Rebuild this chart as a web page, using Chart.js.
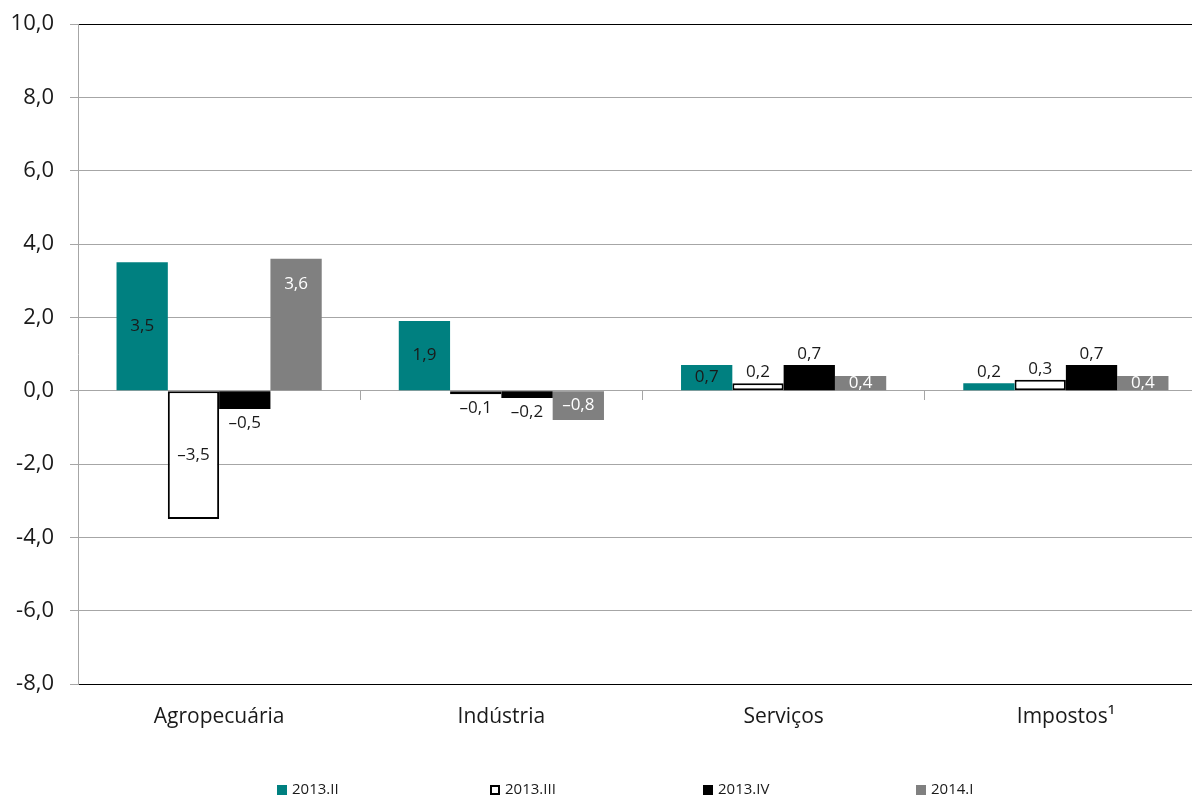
<!DOCTYPE html>
<html>
<head>
<meta charset="utf-8">
<script src="https://cdn.jsdelivr.net/npm/chart.js@4.4.1/dist/chart.umd.min.js"></script>
<style>
  html, body { margin: 0; padding: 0; background: #ffffff; overflow: hidden; }
  #wrap { width: 1207px; height: 799px; }
</style>
</head>
<body>
<div id="wrap"><canvas id="chart" width="1207" height="799"></canvas></div>
<script>
// Sectors on the horizontal axis
const categories = ['Agropecuária', 'Indústria', 'Serviços', 'Impostos¹'];
// Quarters shown in the legend
const periods = ['2013.II', '2013.III', '2013.IV', '2014.I'];
// Quarter-on-quarter change (%) per sector
const q2013II  = [3.5, 1.9, 0.7, 0.2];
const q2013III = [-3.5, -0.1, 0.2, 0.3];
const q2013IV  = [-0.5, -0.2, 0.7, 0.7];
const q2014I   = [3.6, -0.8, 0.4, 0.4];
// Value axis range
const yMin = -8;
const yMax = 10;
const yStep = 2;

const FONT = '"Open Sans", sans-serif';
const TEXT = '#1a1a1a';
const GRID = '#a6a6a6';

const fmtTick = v => v.toFixed(1).replace('.', ',');
const fmtValue = v => v.toFixed(1).replace('.', ',').replace('-', '\u2013');

// Value labels on each bar
const valueLabels = {
  id: 'valueLabels',
  afterDatasetsDraw(chart) {
    const { ctx } = chart;
    ctx.save();
    ctx.font = '17px ' + FONT;
    ctx.textAlign = 'center';
    ctx.textBaseline = 'middle';
    chart.data.datasets.forEach((ds, di) => {
      chart.getDatasetMeta(di).data.forEach((bar, i) => {
        const v = ds.data[i];
        const up = v >= 0;
        const h = Math.abs(bar.base - bar.y);
        let y;
        if (ds.labelMode === 'insideEnd') {
          y = bar.y + (up ? 1 : -1) * Math.min(25, h / 2);
        } else if (ds.labelMode === 'fit' && h >= 20) {
          y = (bar.y + bar.base) / 2;
        } else {
          y = up ? bar.y - 11 : bar.y + 14;
        }
        ctx.fillStyle = ds.labelColor;
        ctx.fillText(fmtValue(v), bar.x, y);
      });
    });
    ctx.restore();
  }
};

// Legend row under the category labels
const LEGEND_X0 = 277;
const LEGEND_STEP = 213;
const LEGEND_Y = 790;
const legendRow = {
  id: 'legendRow',
  afterDraw(chart) {
    const { ctx } = chart;
    ctx.save();
    ctx.font = '15px ' + FONT;
    ctx.textAlign = 'left';
    ctx.textBaseline = 'middle';
    chart.data.datasets.forEach((ds, i) => {
      const x = LEGEND_X0 + i * LEGEND_STEP;
      const top = LEGEND_Y - 5;
      ctx.fillStyle = ds.backgroundColor;
      ctx.fillRect(x, top, 10, 10);
      if (ds.borderWidth) {
        ctx.strokeStyle = ds.borderColor;
        ctx.lineWidth = 2;
        ctx.strokeRect(x + 1, top + 1, 8, 8);
      }
      ctx.fillStyle = TEXT;
      ctx.fillText(ds.label, x + 15, LEGEND_Y);
    });
    ctx.restore();
  }
};

const series = [q2013II, q2013III, q2013IV, q2014I];
const styles = [
  { backgroundColor: '#008080', borderWidth: 0, labelMode: 'fit', labelColor: TEXT },
  { backgroundColor: '#ffffff', borderColor: '#000000', borderWidth: 2, borderSkipped: false, labelMode: 'fit', labelColor: TEXT },
  { backgroundColor: '#000000', borderWidth: 0, labelMode: 'outside', labelColor: TEXT },
  { backgroundColor: '#808080', borderWidth: 0, labelMode: 'insideEnd', labelColor: '#ffffff' }
];

new Chart(document.getElementById('chart'), {
  type: 'bar',
  data: {
    labels: categories,
    datasets: series.map((data, i) => Object.assign({
      label: periods[i],
      data: data,
      categoryPercentage: 0.727,
      barPercentage: 1.0
    }, styles[i]))
  },
  options: {
    responsive: false,
    animation: false,
    layout: { padding: { top: 24, left: 0, right: 0, bottom: 0 } },
    plugins: {
      legend: { display: false },
      tooltip: { enabled: false }
    },
    scales: {
      x: {
        position: 'bottom',
        grid: { display: false, drawTicks: false },
        border: { display: true, color: '#000000', width: 1 },
        ticks: { color: TEXT, font: { family: FONT, size: 21 }, padding: 20, maxRotation: 0 },
        afterFit: s => { s.height = 115; }
      },
      xZero: {
        type: 'category',
        axis: 'x',
        labels: categories,
        position: { y: 0 },
        offset: true,
        grid: { offset: true, drawOnChartArea: false, drawTicks: true, tickLength: 9, color: GRID },
        border: { display: false },
        ticks: { display: false }
      },
      y: {
        min: yMin,
        max: yMax,
        ticks: {
          stepSize: yStep,
          color: TEXT,
          font: { family: FONT, size: 22, lineHeight: 0.7 },
          padding: 16,
          callback: v => fmtTick(v)
        },
        grid: {
          color: c => (c.tick && (c.tick.value === yMax || c.tick.value === yMin)) ? '#000000' : GRID,
          tickColor: GRID,
          tickLength: 8
        },
        border: { display: true, color: GRID },
        afterFit: s => { s.width = 78; }
      }
    }
  },
  plugins: [valueLabels, legendRow]
});
</script>
</body>
</html>
